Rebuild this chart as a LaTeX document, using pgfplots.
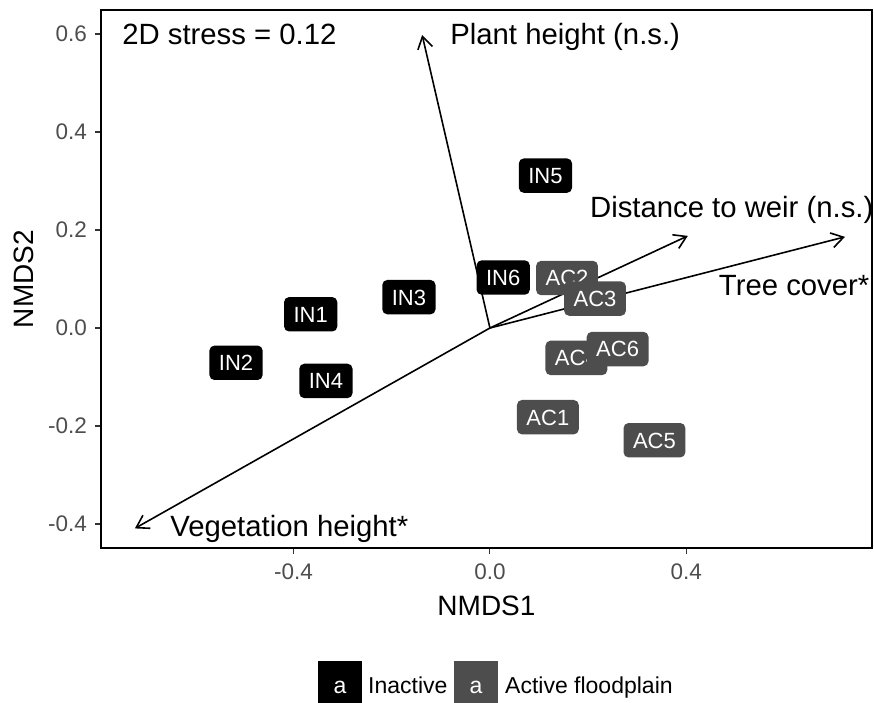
\documentclass[border=0pt]{standalone}
\usepackage{fontspec}
\setmainfont{Liberation Sans}
\usepackage{pgfplots}
\usepackage{pgfplotstable}
\pgfplotsset{compat=1.18}
\usetikzlibrary{arrows.meta}
\definecolor{grey30}{HTML}{4D4D4D}
\definecolor{grey20}{HTML}{333333}

\pgfplotstableread{
x y label
-0.365 0.028 IN1
-0.517 -0.071 IN2
-0.165 0.063 IN3
-0.334 -0.108 IN4
0.113 0.311 IN5
0.027 0.103 IN6
}\inactivetab

\pgfplotstableread{
x y label
0.118 -0.182 AC1
0.157 0.102 AC2
0.214 0.060 AC3
0.176 -0.061 AC4
0.335 -0.229 AC5
0.260 -0.043 AC6
}\activetab

\tikzset{lab/.style={rounded corners=5pt, inner xsep=9.5pt, inner ysep=9.3pt,
  text height=15.8pt, text depth=0pt, text=white, anchor=center,
  font=\fontsize{22}{26}\selectfont}}
\tikzset{ann/.style={anchor=base west, font=\fontsize{29.3}{34}\selectfont, inner sep=0pt}}
\tikzset{arr/.style={black, line width=1.6pt, -{Straight Barb[length=12pt,width=15pt,line width=1.6pt]}}}

\begin{document}
\begin{tikzpicture}
\begin{axis}[
  at={(0,0)}, anchor=south west,
  width=771pt, height=538pt, scale only axis,
  xmin=-0.792, xmax=0.778, ymin=-0.449, ymax=0.649,
  clip=false,
  axis line style={line width=1.4pt, black},
  tick align=outside, tick pos=left,
  major tick length=6pt,
  tick style={line width=1.1pt, grey20},
  xtick={-0.4,0,0.4}, xticklabels={-0.4,0.0,0.4},
  ytick={-0.4,-0.2,0,0.2,0.4,0.6}, yticklabels={-0.4,-0.2,0.0,0.2,0.4,0.6},
  /pgf/number format/assume math mode=true,
  ticklabel style={font=\fontsize{22.5}{26}\selectfont, text=grey30, inner sep=0pt},
  xticklabel style={anchor=north, yshift=-10pt},
  yticklabel style={anchor=east, xshift=-8pt},
  xlabel={NMDS1}, ylabel={NMDS2},
  xlabel style={at={([yshift=-67pt]axis description cs:0.5,0)}, anchor=base, font=\fontsize{28}{32}\selectfont, inner sep=0pt},
  ylabel style={at={([xshift=-67pt]axis description cs:0,0.5)}, anchor=base, rotate=0, font=\fontsize{28}{32}\selectfont, inner sep=0pt},
]
\addplot[draw=none, mark=none, forget plot, nodes near coords, point meta=explicit symbolic,
  nodes near coords align=center,
  nodes near coords style={lab, fill=black}]
  table[x=x, y=y, meta=label]{\inactivetab};
\addplot[draw=none, mark=none, forget plot, nodes near coords, point meta=explicit symbolic,
  nodes near coords align=center,
  nodes near coords style={lab, fill=grey30}]
  table[x=x, y=y, meta=label]{\activetab};

\addplot[arr] coordinates {(0,0) (-0.138,0.598)};
\addplot[arr] coordinates {(0,0) (0.403,0.188)};
\addplot[arr] coordinates {(0,0) (0.723,0.186)};
\addplot[arr] coordinates {(0,0) (-0.723,-0.409)};

\node[ann] at (axis cs:-0.081,0.578) {Plant height (n.s.)};
\node[ann] at (axis cs:0.2036,0.2265) {Distance to weir (n.s.)};
\node[ann] at (axis cs:0.466,0.0673) {Tree cover*};
\node[ann] at (axis cs:-0.651,-0.426) {Vegetation height*};
\node[ann] at (axis cs:-0.749,0.578) {2D stress = 0.12};
\end{axis}

% legend
\fill[black] (217pt,-113pt) rectangle (261pt,-157pt);
\fill[grey30] (353pt,-113pt) rectangle (397pt,-157pt);
\node[anchor=base, text=white, inner sep=0pt, font=\fontsize{23}{27}\selectfont] at (239pt,-145pt) {a};
\node[anchor=base, text=white, inner sep=0pt, font=\fontsize{23}{27}\selectfont] at (375pt,-145pt) {a};
\node[anchor=base west, inner sep=0pt, font=\fontsize{23}{27}\selectfont] at (267pt,-145pt) {Inactive};
\node[anchor=base west, inner sep=0pt, font=\fontsize{23}{27}\selectfont] at (404pt,-145pt) {Active floodplain};

\pgfresetboundingbox
\path (-101pt,-154pt) rectangle (773pt,548pt);
\end{tikzpicture}
\end{document}
